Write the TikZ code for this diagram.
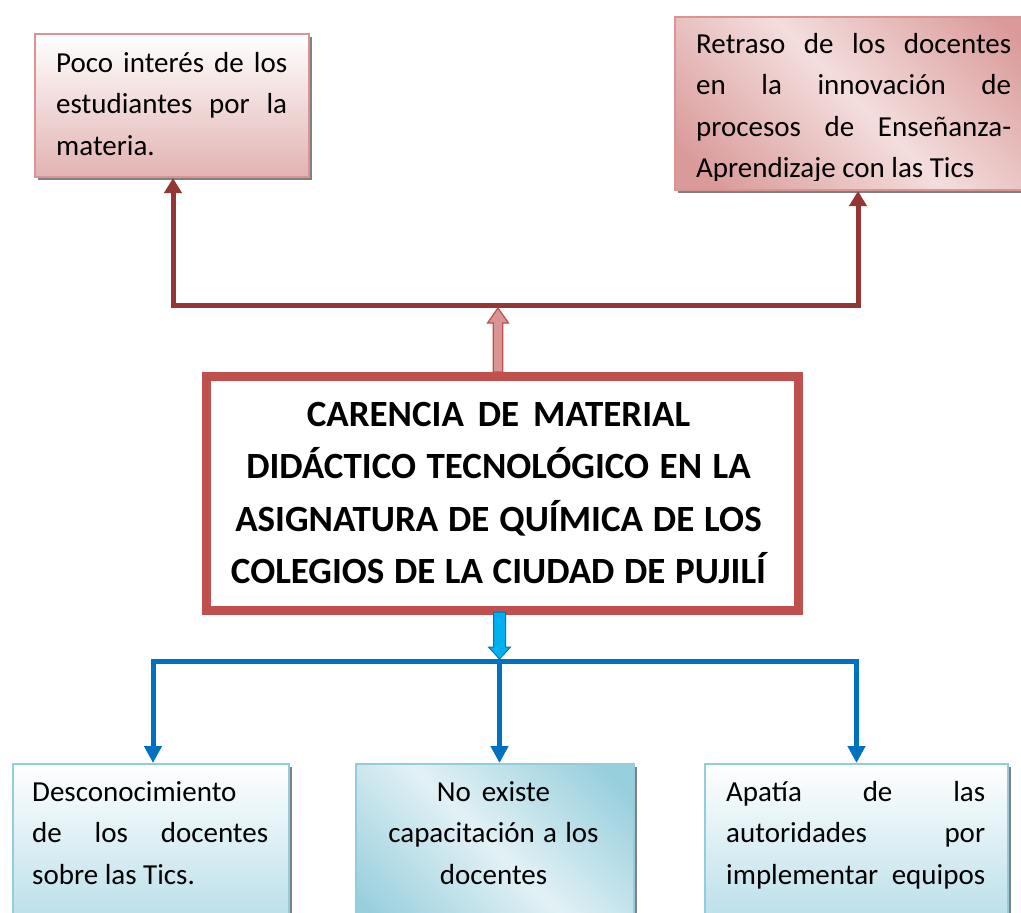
\documentclass[tikz,border=0pt]{standalone}
\usepackage{fontspec}
\setmainfont{Carlito}
\usetikzlibrary{arrows.meta,shadows}
\definecolor{redline}{HTML}{943634}
\definecolor{redbox}{HTML}{C0504D}
\definecolor{pinkborder}{HTML}{D99594}
\definecolor{pinkdark}{HTML}{D99A99}
\definecolor{pinklight}{HTML}{F3DEDD}
\definecolor{pinkbot}{HTML}{E2B3B2}
\definecolor{blueline}{HTML}{0070C0}
\definecolor{bluearrowfill}{HTML}{00B0F0}
\definecolor{blueborder}{HTML}{92CDDC}
\definecolor{bluebot}{HTML}{B4DCE7}
\definecolor{bluedark}{HTML}{98CFDD}
\definecolor{bluelight}{HTML}{E2F1F5}
\pgfdeclarehorizontalshading{pinkdiag}{100bp}{color(0bp)=(pinkdark); color(20bp)=(pinkdark); color(50bp)=(pinklight); color(80bp)=(pinkdark); color(100bp)=(pinkdark)}
\pgfdeclarehorizontalshading{bluediag}{100bp}{color(0bp)=(bluedark); color(20bp)=(bluedark); color(50bp)=(bluelight); color(80bp)=(bluedark); color(100bp)=(bluedark)}
\newcommand\jline[2]{\makebox[#1][s]{#2}}
\begin{document}
\begin{tikzpicture}[x=1pt,y=-1pt,
  natspace/.style={execute at begin node={\spaceskip=0pt\xspaceskip=0pt\relax}},
  boxshadow/.style={drop shadow={shadow xshift=3pt,shadow yshift=-3pt,fill=black!50,opacity=1}},
  pinkbox/.style={draw=pinkborder,line width=2pt,inner sep=0pt,anchor=north west,boxshadow},
  bluebox/.style={draw=blueborder,line width=2pt,inner sep=0pt,anchor=north west,boxshadow},
  bodytext/.style={inner sep=0pt,font=\fontsize{29}{41.5}\selectfont,anchor=base west,align=left,natspace},
  redconn/.style={draw=redline,line width=5pt},
  redarrow/.style={redconn,-{Triangle[width=17pt,length=15pt]}},
  blueconn/.style={draw=blueline,line width=5pt},
  bluearrow/.style={blueconn,-{Triangle[width=17pt,length=17pt]}},
  redblock/.style={fill=pinkborder,draw=redbox,line width=1.2pt,line join=miter},
  blueblock/.style={fill=bluearrowfill,draw=blueline,line width=1pt,line join=miter}
]
\useasboundingbox (0,0) rectangle (1021,913);

% top boxes
\node[pinkbox,minimum width=274pt,minimum height=143pt,top color=white,bottom color=pinkbot] (tl) at (34,33) {};
\node[pinkbox,minimum width=366pt,minimum height=173pt,shading=pinkdiag,shading angle=45] (tr) at (674,16) {};

\node[bodytext,text width=231pt] (tltext) at (56,72)
  {\jline{231pt}{Poco interés de los}\\\jline{231pt}{estudiantes por la}\\materia.};
\begin{scope}
\clip (670,0) rectangle (1021,180);
\node[bodytext,text width=315pt] (trtext) at (696,53)
  {\jline{315pt}{Retraso de los docentes}\\\jline{315pt}{en la innovación de}\\\jline{315pt}{procesos de Enseñanza-}\\Aprendizaje con las Tics};
\end{scope}

% center box
\node[draw=redbox,line width=8pt,fill=white,inner sep=0pt,minimum width=593pt,minimum height=235pt,anchor=north west] (cb) at (202,372) {};
\draw[redbox,line width=2.5pt] ([shift={(7.5,7.5)}]cb.north west) rectangle ([shift={(-7.5,-7.5)}]cb.south east);
\node[inner sep=0pt,font=\fontsize{37}{52.5}\selectfont\bfseries,text width=580pt,align=center,anchor=base,natspace] (cbtext) at (498.5,426)
  {CARENCIA DE MATERIAL\\DIDÁCTICO TECNOLÓGICO EN LA\\ASIGNATURA DE QUÍMICA DE LOS\\COLEGIOS DE LA CIUDAD DE PUJILÍ};

% bottom boxes
\node[bluebox,minimum width=276pt,minimum height=170pt,top color=white,bottom color=bluebot] (bl) at (12,763) {};
\node[bluebox,minimum width=278pt,minimum height=170pt,shading=bluediag,shading angle=45] (bm) at (355,763) {};
\node[bluebox,minimum width=303pt,minimum height=170pt,top color=white,bottom color=bluebot] (br) at (704,763) {};

\node[bodytext,text width=236pt] (bltext) at (32,801)
  {Desconocimiento\\\jline{236pt}{de los docentes}\\sobre las Tics.};
\node[bodytext,text width=270pt,align=center,anchor=base] (bmtext) at (493.5,801)
  {No existe\\capacitación a los\\docentes};
\node[bodytext,text width=259pt] (brtext) at (726,801)
  {\jline{259pt}{Apatía de las}\\\jline{259pt}{autoridades por}\\\jline{259pt}{implementar equipos}};

% red connectors
\coordinate (ua) at ([xshift=-4.5pt]cb.north);
\coordinate (rbar) at ([yshift=67pt]ua);
\draw[redarrow] (rbar) -| ([xshift=1pt]tl.south);
\draw[redarrow] (rbar) -| (tr.south);
\draw[redblock] ([shift={(-4.75,0)}]ua) -- ([shift={(-4.75,-49)}]ua) -- ([shift={(-10.5,-49)}]ua)
  -- ([shift={(0,-64)}]ua) -- ([shift={(10.5,-49)}]ua) -- ([shift={(4.75,-49)}]ua) -- ([shift={(4.75,0)}]ua) -- cycle;

% blue connectors
\coordinate (da) at ([xshift=-3pt]cb.south);
\coordinate (bbar) at ([yshift=-46pt]da);
\draw[bluearrow] (bbar) -| ([xshift=2pt]bl.north);
\draw[bluearrow] (bbar) -| (br.north);
\draw[bluearrow] (bbar) -- (bbar |- bm.north);
\draw[blueblock] ([shift={(-6,-3)}]da) -- ([shift={(-6,32)}]da) -- ([shift={(-11,32)}]da)
  -- ([shift={(0,44)}]da) -- ([shift={(11,32)}]da) -- ([shift={(6,32)}]da) -- ([shift={(6,-3)}]da) -- cycle;
\end{tikzpicture}
\end{document}
